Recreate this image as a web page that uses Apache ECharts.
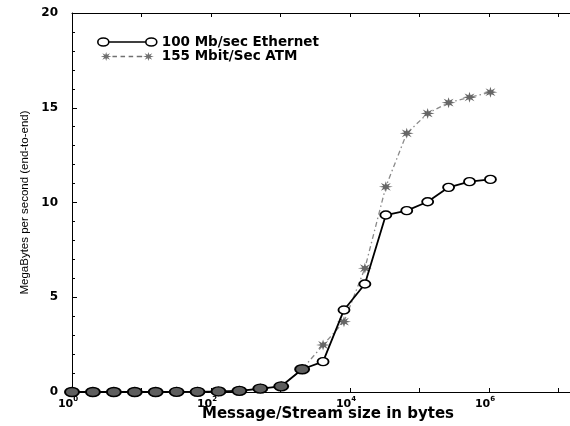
<!DOCTYPE html>
<html>
<head>
<meta charset="utf-8">
<script src="https://cdn.jsdelivr.net/npm/echarts@6/dist/echarts.min.js"></script>
<style>
html,body{margin:0;padding:0;background:#fff;}
#chart{width:570px;height:426px;}
</style>
</head>
<body>
<div id="chart"></div>
<script>
// ---- data ----
const sizes = [1, 2, 4, 8, 16, 32, 64, 128, 256, 512, 1024, 2048, 4096, 8192, 16384, 32768, 65536, 131072, 262144, 524288, 1048576];
const ethernet = [0, 0, 0, 0, 0, 0.01, 0.01, 0.03, 0.06, 0.18, 0.3, 1.2, 1.6, 4.33, 5.7, 9.34, 9.57, 10.04, 10.8, 11.1, 11.22];
const atm = [0, 0, 0, 0, 0, 0.01, 0.01, 0.03, 0.06, 0.18, 0.3, 1.2, 2.48, 3.71, 6.53, 10.83, 13.65, 14.7, 15.27, 15.55, 15.82];
const seriesNames = ['100 Mb/sec Ethernet', '155 Mbit/Sec ATM'];
const xLabelExponents = [0, 2, 4, 6, 8];
const yTicks = [0, 5, 10, 15, 20];
const xTitle = 'Message/Stream size in bytes';
const yTitle = 'MegaBytes per second (end-to-end)';

// ---- drawing helpers ----
function starPath(cx, cy, rx, ry, inner, n) {
  let d = '';
  for (let k = 0; k < 2 * n; k++) {
    const a = Math.PI * k / n;
    const r = k % 2 === 0 ? 1 : inner;
    const x = cx + rx * r * Math.cos(a);
    const y = cy + ry * r * Math.sin(a);
    d += (k === 0 ? 'M' : 'L') + x.toFixed(2) + ',' + y.toFixed(2) + ' ';
  }
  return d + 'Z';
}
function rect(x0, x1, y0, y1) {
  return 'M' + x0 + ',' + y0 + ' L' + x1 + ',' + y0 + ' L' + x1 + ',' + y1 + ' L' + x0 + ',' + y1 + ' Z';
}
const starSymbol = 'path://' + starPath(10, 10, 10, 10, 0.4, 8);
const ethIcon = 'path://M0,5 A5.5,4 0 1,1 11,5 A5.5,4 0 1,1 0,5 Z M11,5 L48,5 M48,5 A5.5,4 0 1,1 59,5 A5.5,4 0 1,1 48,5 Z';
const atmIcon = 'path://' + starPath(6, 5, 6, 5, 0.4, 8) + ' ' + starPath(53, 5, 6, 5, 0.4, 8) + ' ' +
  rect(13, 18, 4.3, 5.7) + ' ' + rect(22, 27, 4.3, 5.7) + ' ' + rect(31, 36, 4.3, 5.7) + ' ' + rect(40, 46, 4.3, 5.7);

const ethData = sizes.map((s, i) => [s, ethernet[i]]);
const atmData = sizes.map((s, i) => [s, atm[i]]);
const overlaps = (i) => Math.abs(ethernet[i] - atm[i]) < 0.3;

const chart = echarts.init(document.getElementById('chart'), null, {renderer: 'canvas'});
const xLabelFmt = function (v) {
  const e = Math.round(Math.log10(v));
  return xLabelExponents.indexOf(e) >= 0 ? '{b|10}{s|' + e + '}' : '';
};
chart.setOption({
  animation: false,
  backgroundColor: '#fff',
  grid: {left: 72, right: -58, top: 13, bottom: 34, containLabel: false, outerBoundsMode: 'none'},
  legend: {
    orient: 'vertical',
    left: 97,
    top: 35,
    padding: 0,
    itemWidth: 59,
    itemHeight: 9,
    itemGap: 0.5,
    selectedMode: false,
    textStyle: {fontFamily: 'DejaVu Sans', fontWeight: 'bold', fontSize: 13.5, color: '#000', lineHeight: 12},
    data: [
      {name: seriesNames[0], icon: ethIcon, itemStyle: {color: 'rgba(0,0,0,0)', borderColor: '#000', borderWidth: 1.6}},
      {name: seriesNames[1], icon: atmIcon, itemStyle: {color: '#707070', borderWidth: 0}}
    ]
  },
  xAxis: [
    {
      type: 'log', logBase: 10, min: 1, max: 1e8, position: 'bottom',
      name: xTitle, nameLocation: 'middle', nameGap: 15, nameMoveOverlap: false,
      nameTextStyle: {fontFamily: 'DejaVu Sans', fontWeight: 'bold', fontSize: 15, color: '#000', padding: [0, 44, 0, 0]},
      axisLine: {show: true, lineStyle: {color: '#000', width: 1}},
      axisTick: {show: true, inside: true, length: 4, lineStyle: {color: '#000'}},
      splitLine: {show: false},
      axisLabel: {
        formatter: xLabelFmt, margin: 4, color: '#000', padding: [0, 8, 0, 0],
        rich: {
          b: {fontFamily: 'DejaVu Sans', fontWeight: 'bold', fontSize: 11, lineHeight: 14, verticalAlign: 'bottom', color: '#000'},
          s: {fontFamily: 'DejaVu Sans', fontWeight: 'bold', fontSize: 7, verticalAlign: 'top', color: '#000'}
        }
      }
    },
    {
      type: 'log', logBase: 10, min: 1, max: 1e8, position: 'top',
      axisLine: {show: true, lineStyle: {color: '#000', width: 1}},
      axisTick: {show: true, inside: true, length: 4, lineStyle: {color: '#000'}},
      axisLabel: {show: false},
      splitLine: {show: false}
    }
  ],
  yAxis: {
    type: 'value', min: yTicks[0], max: yTicks[yTicks.length - 1], interval: 5,
    name: yTitle, nameLocation: 'middle', nameGap: 41, nameRotate: 90,
    nameTextStyle: {fontFamily: 'Liberation Sans', fontSize: 11.5, color: '#000'},
    axisLine: {show: true, lineStyle: {color: '#000', width: 1}},
    axisTick: {show: true, inside: true, length: 5, lineStyle: {color: '#000'}},
    minorTick: {show: true, splitNumber: 5, length: 3, lineStyle: {color: '#000'}},
    splitLine: {show: false},
    axisLabel: {fontFamily: 'DejaVu Sans', fontWeight: 'bold', fontSize: 12, color: '#000', margin: 14}
  },
  series: [
    {
      name: seriesNames[1], type: 'line', data: atmData, z: 2, clip: false, showAllSymbol: true,
      symbol: starSymbol, symbolSize: [14, 11],
      itemStyle: {color: '#666', borderWidth: 0},
      lineStyle: {color: '#8a8a8a', width: 1.3, type: [5, 3, 1.5, 3]}
    },
    {
      name: seriesNames[0], type: 'line', data: ethData, z: 3, clip: false, showAllSymbol: true,
      symbol: 'circle',
      symbolSize: function (v, p) { return overlaps(p.dataIndex) ? [14, 9] : [11, 8]; },
      itemStyle: {
        color: function (p) { return overlaps(p.dataIndex) ? '#5e5e5e' : '#fff'; },
        borderColor: '#000', borderWidth: 1.6
      },
      lineStyle: {color: '#000', width: 1.8}
    }
  ]
});
</script>
</body>
</html>
